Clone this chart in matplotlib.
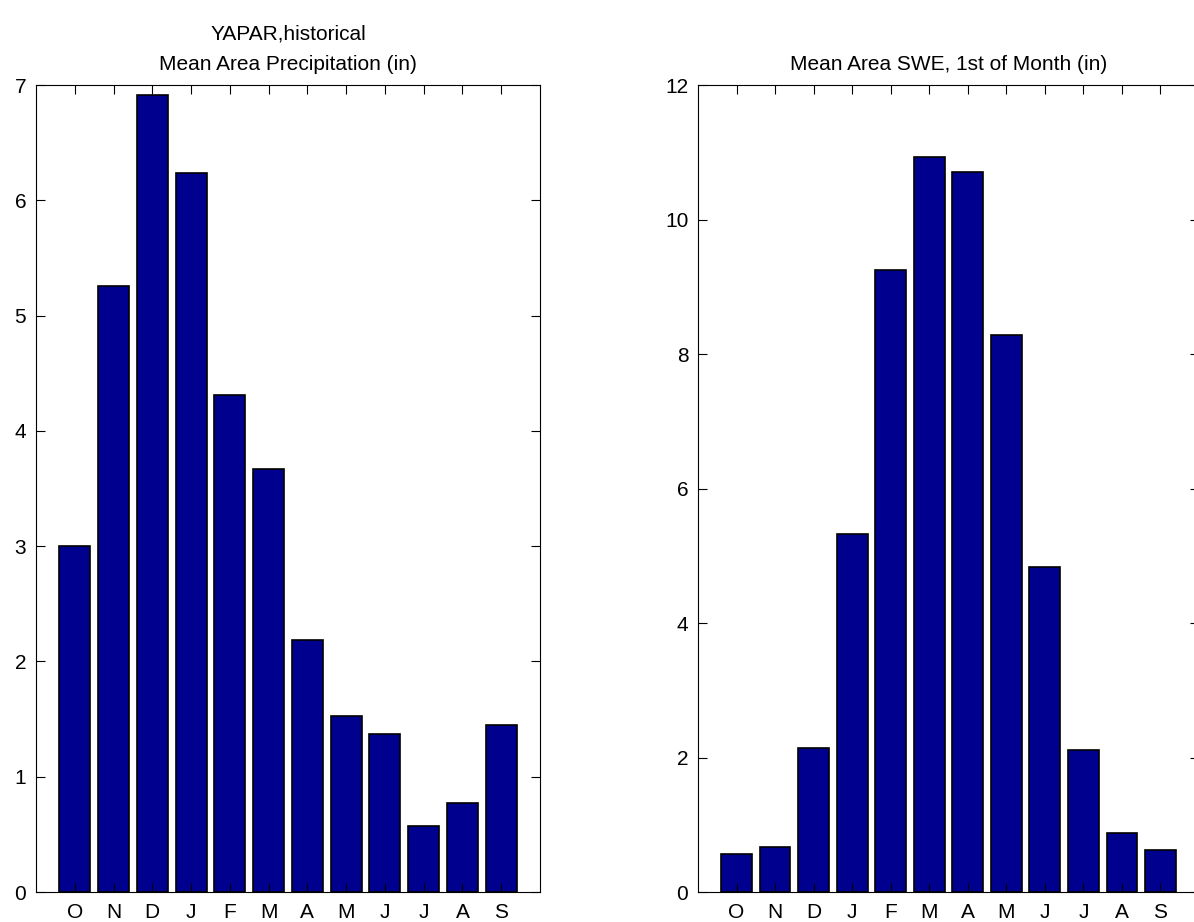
import numpy as np
import matplotlib.pyplot as plt

plt.rcParams['font.family'] = ['Liberation Sans', 'DejaVu Sans']

months = ['O', 'N', 'D', 'J', 'F', 'M', 'A', 'M', 'J', 'J', 'A', 'S']
precip = [3.00, 5.26, 6.91, 6.24, 4.31, 3.67, 2.19, 1.53, 1.37, 0.57, 0.77, 1.45]
swe = [0.57, 0.67, 2.14, 5.33, 9.25, 10.93, 10.70, 8.28, 4.83, 2.11, 0.87, 0.62]

bar_color = '#00008F'
fs = 15

fig = plt.figure(figsize=(11.94, 9.22), dpi=100)
ax1 = fig.add_axes([36 / 1194, 30 / 922, 504 / 1194, 807 / 922])
ax2 = fig.add_axes([698 / 1194, 30 / 922, 501 / 1194, 807 / 922])

x = np.arange(1, 13)


def style(ax, vals, ymax, ystep, title):
    ax.bar(x, vals, width=0.8, color=bar_color, edgecolor='black', linewidth=1.2)
    ax.set_xlim(0, 13)
    ax.set_ylim(0, ymax)
    ax.set_xticks(x)
    ax.set_xticklabels(months)
    ax.set_yticks(np.arange(0, ymax + 0.1, ystep))
    ax.tick_params(direction='in', length=6.5, width=0.8, labelsize=fs,
                   top=True, right=True, pad=7)
    ax.tick_params(axis='x', pad=8)
    for s in ax.spines.values():
        s.set_linewidth(0.8)
    ax.set_title(title, fontsize=fs, pad=11, linespacing=1.75)


style(ax1, precip, 7, 1, 'YAPAR,historical\nMean Area Precipitation (in)')
style(ax2, swe, 12, 2, 'Mean Area SWE, 1st of Month (in)')

fig.savefig('out.png', dpi=100)
